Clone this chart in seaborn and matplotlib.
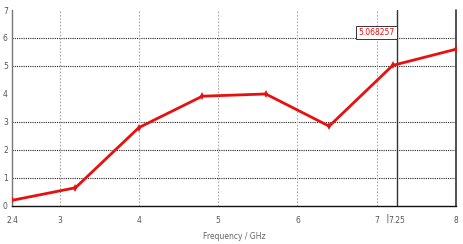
import matplotlib
matplotlib.use("Agg")
import matplotlib.pyplot as plt
import seaborn as sns
import pandas as pd

freq = [2.4, 3.2, 4.0, 4.8, 5.6, 6.4, 7.2, 8.0]
values = [0.2, 0.65, 2.8, 3.92, 4.0, 2.85, 5.02, 5.6]
xtick_pos = [2.4, 3, 4, 5, 6, 7, 7.25, 8]
xtick_labels = ["2.4", "3", "4", "5", "6", "7", "7.25", "8"]
ytick_pos = [0, 1, 2, 3, 4, 5, 6, 7]
grid_y = [1, 2, 3, 5, 6]
grid_x = [3, 4, 5, 6, 7]
marker_x = 7.25
marker_label = "5.068257"

sns.set_style("white")
plt.rcParams['font.family'] = ['DejaVu Sans']

df = pd.DataFrame({"Frequency": freq, "Value": values})

fig = plt.figure(figsize=(4.63, 2.44), dpi=100)
ax = fig.add_axes([0.026, 0.156, 0.959, 0.803])

for gy in grid_y:
    ax.axhline(gy, color="#222222", lw=0.8, ls=(0, (1, 1)), zorder=1)
for gx in grid_x:
    ax.axvline(gx, color="#aaaaaa", lw=0.8, ls=(0, (1.5, 1.5)), zorder=1)

sns.lineplot(data=df, x="Frequency", y="Value", ax=ax, color="#e8100f",
             lw=2.0, marker="d", markersize=4, markeredgewidth=0, zorder=3)

ax.axvline(marker_x, color="#333333", lw=1.0, zorder=2)
ax.axvline(8, color="#333333", lw=1.2, zorder=2, clip_on=False)

ax.text(marker_x - 0.02, 6.03, marker_label, color="#e8100f", fontsize=5.5,
        ha="right", va="bottom",
        bbox=dict(boxstyle="square,pad=0.3", fc="white", ec="#333333", lw=0.7))

# small separator before the marker tick label
ax.annotate("", xy=(7.14, -0.2), xytext=(7.14, -0.7), xycoords="data",
            arrowprops=dict(arrowstyle="-", color="#777777", lw=0.7),
            annotation_clip=False)

ax.set_xlim(2.4, 8)
ax.set_ylim(0, 7)
ax.set_xticks(xtick_pos)
ax.set_xticklabels(xtick_labels)
ax.set_yticks(ytick_pos)
ax.tick_params(axis="x", labelsize=5.5, colors="#555555", length=0, pad=7)
ax.tick_params(axis="y", labelsize=5.5, colors="#555555", length=0, pad=3)
ax.set_xlabel("Frequency / GHz", fontsize=5.5, color="#666666", labelpad=5)
ax.set_ylabel("")

for s in ["top", "right"]:
    ax.spines[s].set_visible(False)
ax.spines["left"].set_color("#777777")
ax.spines["left"].set_linewidth(1.0)
ax.spines["bottom"].set_color("#111111")
ax.spines["bottom"].set_linewidth(1.0)

fig.savefig("out.png", dpi=100, facecolor="white")
